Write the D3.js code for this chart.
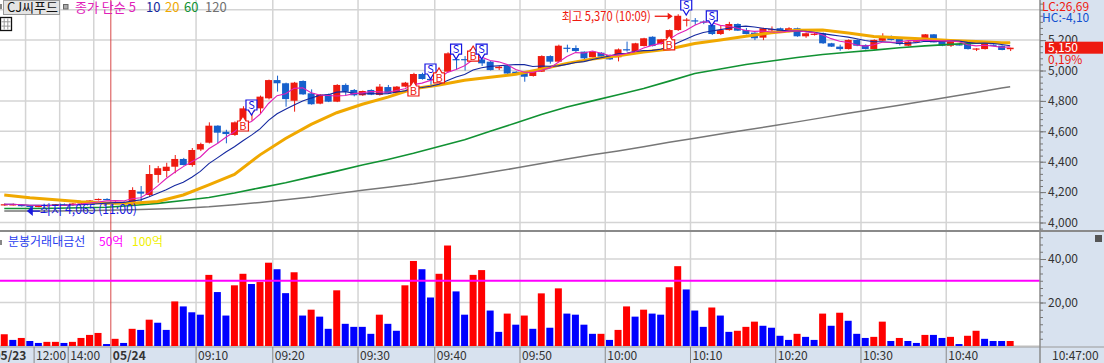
<!DOCTYPE html>
<html>
<head>
<meta charset="utf-8">
<script src="https://cdn.jsdelivr.net/npm/d3@7"></script>
<style>
body { margin: 0; background: #fff; }
svg text { font-family: "Noto Sans CJK KR", "Noto Sans", sans-serif; }
</style>
</head>
<body>
<svg id="chart"></svg>
<script>
// 1-minute candles, slot by slot (prev day tail + 05/24 morning)
const opens = [
  4115,4120,4115,4110,4105,4110,4115,4120,4115,4125,
  4135,4150,4155,4130,4135,4115,4203,4181,4313,4339,
  4367,4418,4378,4480,4525,4637,4597,4576,4653,4730,
  4751,4817,4937,4916,4801,4931,4850,4782,4843,4795,
  4905,4872,4837,4872,4839,4891,4850,4894,4905,4977,
  4945,4950,4992,5075,5075,5100,5073,5058,5015,5030,
  4992,4986,4964,4992,5095,5058,5150,5148,5124,5087,
  5117,5102,5087,5140,5124,5161,5222,5174,5212,5266,
  5330,5330,5322,5299,5240,5266,5306,5266,5249,5216,
  5268,5278,5255,5278,5225,5238,5245,5179,5157,5141,
  5201,5168,5141,5196,5227,5207,5163,5192,5196,5238,
  5196,5163,5172,5183,5140,5141,5170,5163,5140];
const highs = [
  4125,4125,4120,4115,4112,4118,4122,4125,4128,4138,
  4148,4158,4160,4140,4140,4232,4240,4378,4372,4393,
  4444,4425,4490,4525,4659,4640,4610,4665,4765,4750,
  4835,4940,4966,4920,4925,4935,4876,4845,4848,4910,
  4915,4878,4868,4876,4911,4905,4898,4925,4985,4985,
  4955,4975,5120,5090,5095,5150,5080,5062,5030,5035,
  4995,4990,5000,5100,5100,5170,5170,5165,5125,5128,
  5120,5105,5145,5190,5182,5215,5225,5208,5270,5370,
  5345,5345,5330,5305,5299,5320,5310,5280,5252,5282,
  5290,5282,5285,5282,5250,5250,5250,5182,5170,5205,
  5205,5172,5205,5245,5230,5210,5193,5200,5240,5240,
  5200,5193,5180,5185,5147,5185,5172,5165,5150];
const lows = [
  4110,4112,4105,4065,4100,4105,4110,4112,4110,4120,
  4130,4145,4148,4120,4120,4110,4128,4170,4262,4297,
  4324,4375,4367,4470,4520,4521,4521,4570,4650,4670,
  4718,4810,4861,4762,4729,4840,4775,4778,4792,4792,
  4839,4830,4833,4838,4835,4846,4846,4890,4900,4940,
  4890,4945,4990,5005,5000,5095,5030,5000,5003,4977,
  4970,4926,4960,4990,5045,5055,5120,5120,5065,5085,
  5088,5070,5060,5124,5120,5158,5158,5170,5208,5260,
  5290,5300,5305,5234,5234,5262,5260,5238,5200,5200,
  5250,5252,5252,5222,5215,5230,5175,5155,5130,5138,
  5160,5138,5138,5193,5198,5165,5160,5188,5190,5185,
  5160,5155,5165,5138,5128,5138,5160,5133,5128];
const closes = [
  4120,4120,4110,4105,4110,4115,4120,4115,4125,4135,
  4145,4155,4150,4135,4125,4214,4190,4319,4357,4367,
  4418,4378,4477,4516,4637,4591,4582,4659,4751,4740,
  4828,4937,4916,4812,4920,4843,4778,4841,4795,4905,
  4861,4837,4865,4841,4894,4850,4894,4920,4977,4944,
  4940,4965,5113,5070,5070,5140,5047,5003,5025,4980,
  4977,4959,4997,5095,5058,5163,5145,5128,5080,5124,
  5091,5073,5139,5135,5179,5212,5161,5205,5266,5360,
  5335,5325,5318,5240,5266,5306,5262,5240,5212,5278,
  5272,5255,5278,5225,5245,5242,5179,5157,5141,5201,
  5163,5141,5201,5222,5201,5174,5190,5197,5238,5185,
  5163,5190,5170,5141,5145,5183,5163,5135,5150];

// 분봉거래대금 per slot, and bar colour (R up / B down)
const volumes = [
  5.4,2.8,3.7,2.3,1.4,1.9,1.9,1.4,1.9,3.7,
  5.1,6.0,0.9,3.3,1.4,7.9,7.4,12.1,10.7,7.4,
  20.5,18.2,15.5,14.4,32.7,24.8,14.0,27.9,33.2,28.5,
  29.4,38.3,35.3,24.3,33.9,14.0,16.7,13.5,7.9,25.6,
  10.2,8.8,8.8,5.6,14.4,10.2,7.0,27.9,39.1,35.3,
  22.3,33.2,46.2,25.1,14.4,32.7,34.9,16.3,6.5,14.9,
  9.8,14.0,7.9,24.2,8.4,26.5,14.9,14.4,9.8,5.6,
  5.6,2.8,7.4,18.2,13.5,16.7,14.9,14.4,27.0,36.7,
  26.0,16.3,8.8,17.7,14.0,6.5,7.0,8.8,11.2,9.3,
  8.4,4.7,2.8,5.6,4.2,2.8,14.9,9.3,15.3,11.6,
  5.6,3.7,4.2,11.2,2.3,3.7,2.3,1.4,5.1,5.1,
  3.7,4.2,0.9,4.7,7.0,3.3,2.3,2.3,2.3];
const volumeDir = "RBRBBRRBRR" + "RRBRBRBRBB" + "RBBBRBBRRB" + "RRBBRBRBBR" +
                  "BBBBRBBRRB" + "BRRBBRRBBR" + "BRBRBRBBBB" + "RBRRBRBBRR" +
                  "BBBRBBRRRB" + "BBBRBBRBRB" + "BBRRBRBBRB" + "BRBRRBBBR";
const volumeLine = 30;

// long moving averages, every third slot
const maSlots = [0,3,6,9,12,15,18,21,24,27,30,33,36,39,42,45,48,51,54,57,60,
                 63,66,69,72,75,78,81,84,87,90,93,96,99,102,105,108,111,114,117,118];
const ma20 = [4181,4163,4150,4136,4127,4127,4138,4181,4248,4316,4445,4553,4645,4722,4778,4825,4880,4905,4936,4955,4975,
              5008,5047,5075,5097,5122,5142,5178,5200,5225,5248,5264,5266,5246,5224,5216,5207,5198,5190,5183,5183];
const ma60 = [4092,4092,4094,4097,4100,4112,4126,4145,4165,4194,4228,4262,4300,4338,4378,4415,4455,4500,4545,4600,4655,
              4710,4760,4800,4840,4882,4930,4980,5010,5040,5062,5085,5105,5120,5134,5150,5162,5172,5180,5183,5183];
const ma120 = [4075,4075,4075,4078,4080,4084,4088,4094,4103,4116,4132,4150,4168,4190,4212,4232,4253,4278,4303,4330,4358,
               4388,4418,4445,4470,4498,4528,4555,4582,4608,4635,4662,4690,4718,4745,4772,4800,4828,4855,4885,4893];

// time axis labels (slot where each starts) and grid slots
const timeTicks = [[-1,"05/23",true],[4,"12:00"],[8,"14:00"],[13,"05/24",true],[23,"09:10"],[32,"09:20"],
                   [42,"09:30"],[51,"09:40"],[61,"09:50"],[71,"10:00"],[81,"10:10"],[91,"10:20"],[101,"10:30"],[111,"10:40"]];
const gridSlots = [3,7,11,23,32,42,51,61,71,81,91,101,111];
const dayStart = 13;

// B / S signal boxes
const signalSlots = [28,29,48,50,51,53,55,56,78,80,83];
const signalTypes = "BSBSBSBSBSS";
const signalPrices = [4635,4773,4865,5010,4951,5141,5095,5141,5168,5431,5359];

const priceTicks = [4000,4200,4400,4600,4800,5000,5200];
const priceGrid = [4000,4200,4400,4600,4800,5000,5200,5400];
const volumeTicks = [20,40];
const lastPrice = 5150, lastChange = "0,19%";
const hiPrice = 5370, hiSlot = 79, hiText = "최고 5,370 (10:09)";
const loPrice = 4065, loSlot = 3, loText = "최저 4,065 (11:00)";

const W = 1104, H = 363, plotW = 1040;
const RED = "#ee1a10", BLUE = "#1660cc";
const svg = d3.select("#chart").attr("width", W).attr("height", H);

const x = d3.scaleBand().domain(d3.range(122)).range([0, plotW])
  .paddingInner(0.18).paddingOuter(0.09);
const cx = i => x(i) + x.bandwidth() / 2;
const edge = i => i * x.step();
const y = d3.scaleLinear().domain([4000, 5000]).range([222.5, 70.5]);
const yv = d3.scaleLinear().domain([0, 40]).range([346, 259]);

// backgrounds
svg.append("rect").attr("width", W).attr("height", H).attr("fill", "#fff");
svg.append("rect").attr("x", plotW).attr("width", W - plotW).attr("height", H).attr("fill", "#d8e2ef");
svg.append("rect").attr("y", 347).attr("width", plotW).attr("height", 16).attr("fill", "#d8e2ef");

const defs = svg.append("defs");
defs.append("clipPath").attr("id", "clipP").append("rect").attr("width", plotW).attr("height", 230);

// grid
const grid = svg.append("g").attr("stroke", "#d4d4d4").attr("stroke-width", 1.5);
grid.selectAll(".hp").data(priceGrid).enter().append("line")
  .attr("x1", 0).attr("x2", plotW).attr("y1", d => y(d)).attr("y2", d => y(d));
grid.selectAll(".hv").data([0, 20, 40]).enter().append("line")
  .attr("x1", 0).attr("x2", plotW).attr("y1", d => yv(d)).attr("y2", d => yv(d));
grid.selectAll(".v").data(gridSlots).enter().append("line")
  .attr("x1", d => edge(d)).attr("x2", d => edge(d)).attr("y1", 0).attr("y2", 346);

svg.append("line").attr("x1", edge(dayStart)).attr("x2", edge(dayStart))
  .attr("y1", 0).attr("y2", 346).attr("stroke", "#d84848").attr("stroke-width", 1);

// candles
const pg = svg.append("g").attr("clip-path", "url(#clipP)");
const idx = d3.range(closes.length);
const col = i => closes[i] >= opens[i] ? RED : BLUE;
pg.selectAll(".wick").data(idx).enter().append("line")
  .attr("x1", i => cx(i) + 0.5).attr("x2", i => cx(i) + 0.5)
  .attr("y1", i => y(highs[i])).attr("y2", i => y(lows[i]))
  .attr("stroke", col).attr("stroke-width", 1);
pg.selectAll(".body").data(idx).enter().append("rect")
  .attr("x", i => x(i)).attr("width", x.bandwidth())
  .attr("y", i => y(Math.max(opens[i], closes[i])))
  .attr("height", i => Math.max(1.2, Math.abs(y(opens[i]) - y(closes[i]))))
  .attr("fill", col);

// moving averages
const ma = n => closes.map((c, i) => d3.mean(closes.slice(Math.max(0, i - n + 1), i + 1)));
const lineI = d3.line().x((d, i) => cx(i)).y(d => y(d));
const lineS = d3.line().x(d => cx(d[0])).y(d => y(d[1]));
const pairs = arr => maSlots.map((s, k) => [s, arr[k]]);
pg.append("path").attr("d", lineS(pairs(ma120))).attr("fill", "none").attr("stroke", "#777").attr("stroke-width", 1.5);
pg.append("path").attr("d", lineS(pairs(ma60))).attr("fill", "none").attr("stroke", "#119233").attr("stroke-width", 1.6);
pg.append("path").attr("d", lineS(pairs(ma20))).attr("fill", "none").attr("stroke", "#f0a800").attr("stroke-width", 3);
pg.append("path").attr("d", lineI(ma(10))).attr("fill", "none").attr("stroke", "#1428a0").attr("stroke-width", 1.1);
pg.append("path").attr("d", lineI(ma(5))).attr("fill", "none").attr("stroke", "#e020b8").attr("stroke-width", 1.1);

// signals
signalSlots.forEach((s, k) => {
  const t = signalTypes[k], c = cx(s), m = y(signalPrices[k]);
  const top = m - 5, bot = m + 5;
  const p = t === "S"
    ? `M${c-5.5},${top}H${c+5.5}V${bot}H${c+3}L${c},${bot+5}L${c-3},${bot}H${c-5.5}Z`
    : `M${c-5.5},${top}H${c-3}L${c},${top-5}L${c+3},${top}H${c+5.5}V${bot}H${c-5.5}Z`;
  const sc = t === "S" ? "#1414e0" : "#ee1a10";
  pg.append("path").attr("d", p).attr("fill", "#fff").attr("stroke", sc).attr("stroke-width", 1.2);
  pg.append("text").attr("x", c).attr("y", m + 4).attr("text-anchor", "middle")
    .attr("font-size", 11).attr("fill", sc).text(t);
});

// high / low notes
const hx = cx(hiSlot) - 5, hy = y(hiPrice) + 2;
pg.append("line").attr("x1", hx - 18).attr("x2", hx - 4).attr("y1", hy).attr("y2", hy).attr("stroke", RED).attr("stroke-width", 1.3);
pg.append("path").attr("d", `M${hx},${hy}L${hx-5},${hy-3.5}L${hx-5},${hy+3.5}Z`).attr("fill", RED);
pg.append("text").attr("x", hx - 22).attr("y", hy + 5).attr("text-anchor", "end")
  .attr("font-size", 13).attr("textLength", 89).attr("lengthAdjust", "spacingAndGlyphs")
  .attr("fill", RED).text(hiText);
const lx = cx(loSlot) - 3, ly = y(loPrice) - 1.5;
pg.append("path").attr("d", `M${lx},${ly}L${lx+6},${ly-5}L${lx+6},${ly+5}Z`).attr("fill", "#1a1ae0");
pg.append("line").attr("x1", lx + 5).attr("x2", lx + 13).attr("y1", ly).attr("y2", ly).attr("stroke", "#1a1ae0").attr("stroke-width", 1.3);
pg.append("text").attr("x", lx + 13).attr("y", ly + 2.5).attr("font-size", 13)
  .attr("textLength", 97).attr("lengthAdjust", "spacingAndGlyphs")
  .attr("fill", "#1a1ae0").text(loText);

// volume bars
svg.selectAll(".vol").data(idx).enter().append("rect")
  .attr("x", i => x(i)).attr("width", x.bandwidth())
  .attr("y", i => yv(volumes[i])).attr("height", i => yv(0) - yv(volumes[i]))
  .attr("fill", i => volumeDir[i] === "R" ? "#ff0000" : "#0000ff");
svg.append("line").attr("x1", 0).attr("x2", plotW).attr("y1", yv(volumeLine)).attr("y2", yv(volumeLine))
  .attr("stroke", "#ff00ff").attr("stroke-width", 2);

// panel frames
svg.append("line").attr("x1", 0).attr("x2", W).attr("y1", 231).attr("y2", 231).attr("stroke", "#8a8a8a").attr("stroke-width", 2);
svg.append("line").attr("x1", 0).attr("x2", W).attr("y1", 347).attr("y2", 347).attr("stroke", "#9a9a9a").attr("stroke-width", 1);
svg.append("line").attr("x1", plotW).attr("x2", plotW).attr("y1", 0).attr("y2", H).attr("stroke", "#8a8a8a").attr("stroke-width", 1.5);

// right price axis
const styleAxis = g => {
  g.select(".domain").remove();
  g.selectAll("line").attr("stroke", "#777");
  g.selectAll("text").attr("fill", "#333").attr("font-size", 12)
    .attr("font-family", '"Noto Sans CJK KR", sans-serif');
};
svg.append("g").attr("transform", `translate(${plotW},0)`)
  .call(d3.axisRight(y).tickValues(d3.range(3960, 5480, 40).filter(v => y(v) > 1 && y(v) < 229)).tickSize(3).tickFormat(""))
  .call(styleAxis);
svg.append("g").attr("transform", `translate(${plotW},0)`)
  .call(d3.axisRight(y).tickValues(priceTicks).tickSize(6).tickPadding(2).tickFormat(d3.format(",")))
  .call(styleAxis);

// right volume axis
const fmt2 = v => d3.format(".2f")(v).replace(".", ",");
svg.append("g").attr("transform", `translate(${plotW},0)`)
  .call(d3.axisRight(yv).tickValues(d3.range(0, 52, 20 / 6).filter(v => yv(v) > 234 && yv(v) < 346)).tickSize(3).tickFormat(""))
  .call(styleAxis);
svg.append("g").attr("transform", `translate(${plotW},0)`)
  .call(d3.axisRight(yv).tickValues(volumeTicks).tickSize(6).tickPadding(2).tickFormat(fmt2))
  .call(styleAxis);

// last price tag and LC/HC
svg.append("rect").attr("x", 1045).attr("y", y(lastPrice) - 6).attr("width", 58).attr("height", 12).attr("fill", "#ee1a10");
svg.append("text").attr("x", 1048).attr("y", y(lastPrice) + 4.5).attr("font-size", 12).attr("fill", "#fff").text(d3.format(",")(lastPrice));
svg.append("text").attr("x", 1048).attr("y", y(lastPrice) + 16).attr("font-size", 12).attr("fill", RED).text(lastChange);
svg.append("text").attr("x", 1042).attr("y", 10.5).attr("font-size", 12).attr("fill", RED).text("LC:26,69");
svg.append("text").attr("x", 1042).attr("y", 22).attr("font-size", 12).attr("fill", "#1050d0").text("HC:-4,10");
svg.append("rect").attr("x", 1095).attr("y", 235).attr("width", 7).attr("height", 7).attr("fill", "#555");

// time axis
const tg = svg.append("g");
timeTicks.forEach(([s, label, bold]) => {
  tg.append("line").attr("x1", edge(s)).attr("x2", edge(s)).attr("y1", 347).attr("y2", H).attr("stroke", "#888");
  tg.append("text").attr("x", edge(s) + 2).attr("y", 359.5).attr("font-size", 12)
    .attr("font-weight", bold ? "bold" : "normal").attr("fill", "#333").text(label);
});
tg.append("text").attr("x", 1052).attr("y", 359.5).attr("font-size", 12).attr("fill", "#333").text("10:47:00");

// legends
svg.append("rect").attr("x", 0).attr("y", 4).attr("width", 2).attr("height", 5).attr("fill", "#888");
svg.append("rect").attr("x", 3.5).attr("y", 0.5).attr("width", 56).attr("height", 14).attr("fill", "#e4e4e4").attr("stroke", "#999");
svg.append("text").attr("x", 7).attr("y", 12).attr("font-size", 13).attr("fill", "#111").text("CJ씨푸드");
svg.append("rect").attr("x", 63.5).attr("y", 4.5).attr("width", 4.5).attr("height", 4.5).attr("fill", "#aaa").attr("stroke", "#666");
const maLegend = [["종가 단순 5", "#e020b8", 75], ["10", "#1428a0", 146], ["20", "#f0a800", 165], ["60", "#119233", 184], ["120", "#707070", 205]];
maLegend.forEach(([t, c, px]) => svg.append("text").attr("x", px).attr("y", 12).attr("font-size", 13).attr("fill", c).text(t));
const ic = svg.append("g").attr("transform", "translate(0.5,17.5)");
ic.append("rect").attr("width", 11).attr("height", 13).attr("fill", "#fff").attr("stroke", "#111").attr("stroke-width", 1.3);
[4.3, 8.6].forEach(v => ic.append("line").attr("x1", 1).attr("x2", 10).attr("y1", v).attr("y2", v).attr("stroke", "#999"));
[3.7, 7.3].forEach(v => ic.append("line").attr("x1", v).attr("x2", v).attr("y1", 1).attr("y2", 12).attr("stroke", "#999"));

svg.append("rect").attr("x", 0).attr("y", 240).attr("width", 2).attr("height", 5).attr("fill", "#888");
svg.append("text").attr("x", 8).attr("y", 246).attr("font-size", 12).attr("fill", "#2a40f0").text("분봉거래대금선");
svg.append("text").attr("x", 99).attr("y", 246).attr("font-size", 12).attr("fill", "#ff00ff").text("50억");
svg.append("text").attr("x", 132).attr("y", 246).attr("font-size", 12).attr("fill", "#f0f000").text("100억");
</script>
</body>
</html>
